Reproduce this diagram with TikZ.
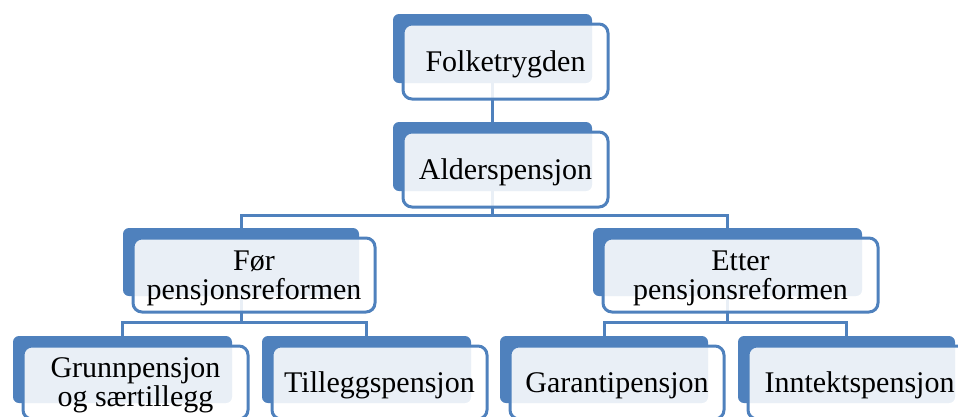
\documentclass[tikz,border=0pt]{standalone}
\usepackage{fontspec}
\setmainfont{Liberation Serif}
\usetikzlibrary{positioning}

\definecolor{boxblue}{HTML}{4F81BD}

\begin{document}
\begin{tikzpicture}[
  x=1pt, y=-1pt,
  back/.style={fill=boxblue, rounded corners=6pt, inner sep=0pt},
  front/.style={draw=boxblue, line width=3pt, fill=white, fill opacity=.88,
    text opacity=1, rounded corners=9pt, inner sep=0pt, align=center,
    text depth=0pt, font=\fontsize{30}{29}\selectfont},
  link/.style={draw=boxblue, line width=3pt}
]
  \useasboundingbox (0,0) rectangle (958,416);
  \clip (0,0) rectangle (958,416);
  % blue backs
  \node[back, minimum width=199, minimum height=69] (folketrygden-b) at (492.5,48.5) {};
  \node[back, minimum width=199, minimum height=69] (alderspensjon-b) at (492.5,156.5) {};
  \node[back, minimum width=236, minimum height=68] (foer-b) at (241,262) {};
  \node[back, minimum width=269, minimum height=68] (etter-b) at (727.5,262) {};
  \node[back, minimum width=219, minimum height=67] (grunn-b) at (122.5,369.5) {};
  \node[back, minimum width=209, minimum height=67] (tillegg-b) at (366.5,369.5) {};
  \node[back, minimum width=208, minimum height=67] (garanti-b) at (604,369.5) {};
  \node[back, minimum width=217, minimum height=67] (inntekt-b) at (846.5,369.5) {};
  % connectors
  \coordinate (fork-alder) at (alderspensjon-b.south |- 0,215);
  \coordinate (fork-foer) at (foer-b.south |- 0,322);
  \coordinate (fork-etter) at (etter-b.south |- 0,322);
  \draw[link] (folketrygden-b.south) -- (alderspensjon-b.north);
  \draw[link] (alderspensjon-b.south) -- (fork-alder) -| (foer-b.north);
  \draw[link] (fork-alder) -| (etter-b.north);
  \draw[link] (foer-b.south) -- (fork-foer) -| (grunn-b.north);
  \draw[link] (fork-foer) -| (tillegg-b.north);
  \draw[link] (etter-b.south) -- (fork-etter) -| (garanti-b.north);
  \draw[link] (fork-etter) -| (inntekt-b.north);
  % front boxes
  \node[front, minimum width=205, minimum height=75] (folketrygden)
    at ([shift={(13,13)}]folketrygden-b.center) {Folketrygden};
  \node[front, minimum width=205, minimum height=75] (alderspensjon)
    at ([shift={(13,13)}]alderspensjon-b.center) {Alderspensjon};
  \node[front, minimum width=242, minimum height=74] (foer)
    at ([shift={(13,13)}]foer-b.center) {Før\\pensjonsreformen};
  \node[front, minimum width=275, minimum height=74] (etter)
    at ([shift={(13,13)}]etter-b.center) {Etter\\pensjonsreformen};
  \node[front, minimum width=225, minimum height=73] (grunn)
    at ([shift={(13,13)}]grunn-b.center) {Grunnpensjon\\og særtillegg};
  \node[front, minimum width=215, minimum height=73] (tillegg)
    at ([shift={(13,13)}]tillegg-b.center) {Tilleggspensjon};
  \node[front, minimum width=214, minimum height=73] (garanti)
    at ([shift={(13,13)}]garanti-b.center) {Garantipensjon};
  \node[front, minimum width=223, minimum height=73] (inntekt)
    at ([shift={(13,13)}]inntekt-b.center) {Inntektspensjon};
\end{tikzpicture}
\end{document}
